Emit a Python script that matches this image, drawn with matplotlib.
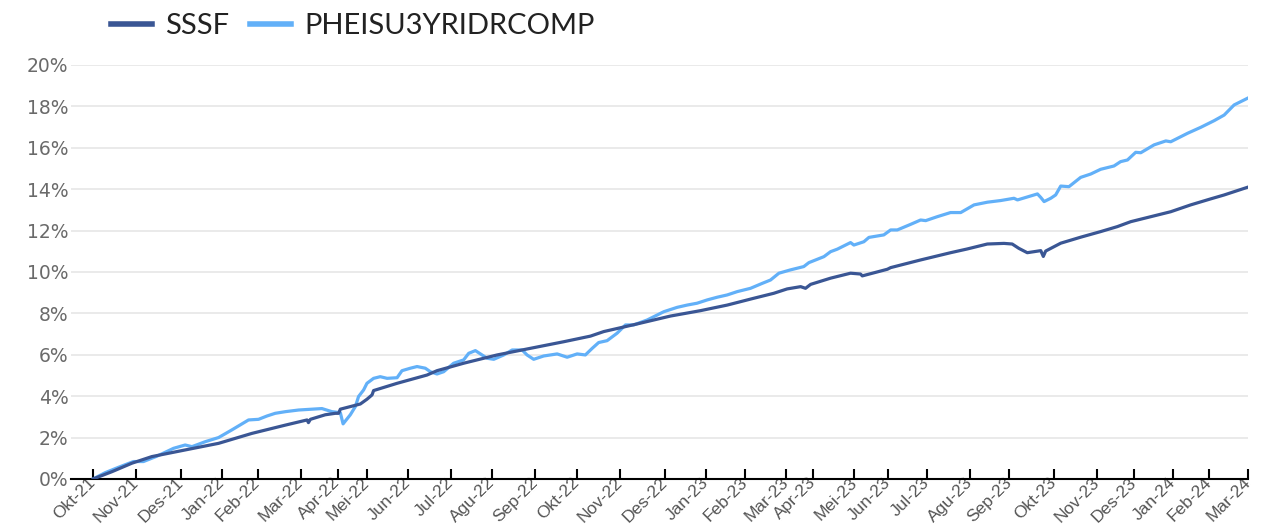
import matplotlib
matplotlib.use("Agg")
import matplotlib.pyplot as plt
from matplotlib.ticker import FuncFormatter

# x values are trading-day counts from the start of the series
month_labels = ["Okt-21", "Nov-21", "Des-21", "Jan-22", "Feb-22", "Mar-22", "Apr-22", "Mei-22",
                "Jun-22", "Jul-22", "Agu-22", "Sep-22", "Okt-22", "Nov-22", "Des-22", "Jan-23",
                "Feb-23", "Mar-23", "Apr-23", "Mei-23", "Jun-23", "Jul-23", "Agu-23", "Sep-23",
                "Okt-23", "Nov-23", "Des-23", "Jan-24", "Feb-24", "Mar-24"]
month_days = [0, 22, 45, 66, 84, 106, 125, 140, 161, 183, 204, 226, 247, 269, 292, 313,
              333, 354, 368, 389, 406, 426, 448, 468, 491, 513, 532, 552, 570, 590]

sssf_days = [0, 9.6, 19.8, 30, 47, 64.1, 81.1, 98.2, 109.3, 110, 111, 118.6, 123.7, 125.4,
             126.3, 136.5, 139.9, 142.5, 143.3, 155.3, 170.6, 175.7, 189.3, 206.4, 223.4,
             240.5, 254.1, 260.9, 278, 295, 310.3, 324, 337.6, 347.8, 354.6, 361.5, 364,
             366.6, 376.8, 387, 392.1, 393, 405.8, 407.5, 422.8, 438.1, 446.6, 456.9, 465.4,
             469.6, 473, 477.3, 484.2, 485.5, 486.7, 494.4, 504.6, 514.8, 523.3, 530.2,
             540.4, 550.6, 560.8, 571, 577.9, 589.8]
sssf_ret = [0, 0.35, 0.76, 1.08, 1.4, 1.72, 2.2, 2.6, 2.85, 2.72, 2.88, 3.1, 3.17, 3.17,
            3.37, 3.62, 3.85, 4.06, 4.27, 4.62, 5.02, 5.23, 5.59, 5.99, 6.31,
            6.63, 6.9, 7.12, 7.49, 7.87, 8.13, 8.4, 8.73, 8.97, 9.18, 9.29, 9.21,
            9.4, 9.7, 9.94, 9.9, 9.81, 10.13, 10.21, 10.58, 10.93, 11.11, 11.35, 11.38,
            11.35, 11.14, 10.93, 11.03, 10.75, 11.01, 11.39, 11.68, 11.95, 12.19, 12.43,
            12.67, 12.91, 13.24, 13.53, 13.72, 14.09]

bench_days = [0, 6.1, 12.9, 20.6, 25.7, 32.6, 41.1, 47, 50.5, 57.3, 64.1, 70.9, 79.4, 84.5,
              88.8, 93, 98.2, 105, 111.8, 116.9, 122, 126.3, 127.7, 131.4, 134, 135.6, 138.2,
              139.9, 143.3, 146.7, 150.2, 155.3, 157.8, 162.1, 165.5, 169.7, 172.3, 175.7,
              179.1, 184.2, 189.3, 191.9, 195.3, 201.3, 204.7, 209.8, 214.1, 219.2, 221.7,
              225.1, 230.2, 237.1, 242.2, 247.3, 251.5, 255, 258.3, 262.6, 267.7, 272, 276.2,
              283.1, 291.6, 298.4, 303.5, 308.6, 313.8, 318.9, 324, 329.1, 335.9, 341.9,
              346.1, 350.4, 356.3, 363.1, 365.7, 373.4, 376.8, 380.2, 387, 388.7, 393.8,
              396.4, 404, 407.5, 410.9, 417.7, 422.8, 425.4, 431.3, 438.1, 443.3, 450.1,
              456.9, 463.7, 470.5, 472.3, 482.5, 484.2, 485.9, 489.3, 491.8, 494.4, 498.6,
              504.6, 509.7, 514.8, 521.6, 525, 528.5, 532.7, 535.3, 542.1, 548.1, 550.6,
              559.2, 566, 572.8, 577.9, 583, 589.8]
bench_ret = [0, 0.3, 0.56, 0.84, 0.84, 1.1, 1.48, 1.64, 1.56, 1.8, 2.0, 2.37, 2.85, 2.88,
             3.04, 3.17, 3.25, 3.33, 3.37, 3.4, 3.25, 3.2, 2.66, 3.1, 3.5, 3.98, 4.3,
             4.62, 4.86, 4.94, 4.86, 4.89, 5.23, 5.35, 5.43, 5.35, 5.18, 5.07,
             5.18, 5.59, 5.75, 6.07, 6.2, 5.83, 5.78, 5.99, 6.23, 6.23, 5.99,
             5.78, 5.94, 6.04, 5.88, 6.04, 5.99, 6.31, 6.59, 6.68, 7.04, 7.44, 7.44,
             7.68, 8.08, 8.29, 8.4, 8.49, 8.65, 8.78, 8.89, 9.05, 9.21, 9.45,
             9.61, 9.94, 10.1, 10.26, 10.45, 10.74, 10.98, 11.1, 11.42, 11.3, 11.46,
             11.67, 11.79, 12.03, 12.03, 12.3, 12.51, 12.48, 12.67, 12.87, 12.87, 13.24,
             13.37, 13.45, 13.56, 13.48, 13.77, 13.6, 13.4, 13.56, 13.72, 14.15, 14.12,
             14.57, 14.73, 14.96, 15.12, 15.33, 15.41, 15.78, 15.76, 16.14, 16.33, 16.29,
             16.7, 16.99, 17.31, 17.58, 18.07, 18.39]

fig = plt.figure(figsize=(12.72, 5.24), dpi=100)
ax = fig.add_axes([0.056, 0.086, 0.925, 0.79])

ax.plot(sssf_days, sssf_ret, color="#3a5694", lw=2.3, label="SSSF", zorder=3)
ax.plot(bench_days, bench_ret, color="#62b0f8", lw=2.3, label="PHEISU3YRIDRCOMP", zorder=2)

ax.set_xlim(-11.2, 590)
ax.set_ylim(0, 20)
ax.set_yticks(range(0, 21, 2))
ax.yaxis.set_major_formatter(FuncFormatter(lambda v, p: f"{v:.0f}%"))
ax.grid(axis="y", color="#e6e6e6", lw=1.2)
ax.set_axisbelow(True)

ax.set_xticks(month_days)
ax.set_xticklabels(month_labels, rotation=45, ha="right", va="center", rotation_mode="anchor",
                   family="Liberation Sans")
ax.tick_params(axis="x", direction="in", length=7, width=1.5, color="black",
               labelsize=12.5, labelcolor="#555555", pad=1)
ax.tick_params(axis="y", length=0, labelsize=13.5, labelcolor="#6a6a6a", pad=2)

for s in ["top", "right", "left"]:
    ax.spines[s].set_visible(False)
ax.spines["bottom"].set_color("black")
ax.spines["bottom"].set_linewidth(1.5)

leg = fig.legend(loc="center left", bbox_to_anchor=(0.067, 0.95), ncol=2, frameon=False,
                 handlelength=1.4, handletextpad=0.45, columnspacing=0.7,
                 prop={"family": "Lato", "size": 21})
for line in leg.get_lines():
    line.set_linewidth(4)
for t in leg.get_texts():
    t.set_color("#222222")

fig.savefig("out.png", dpi=100)
